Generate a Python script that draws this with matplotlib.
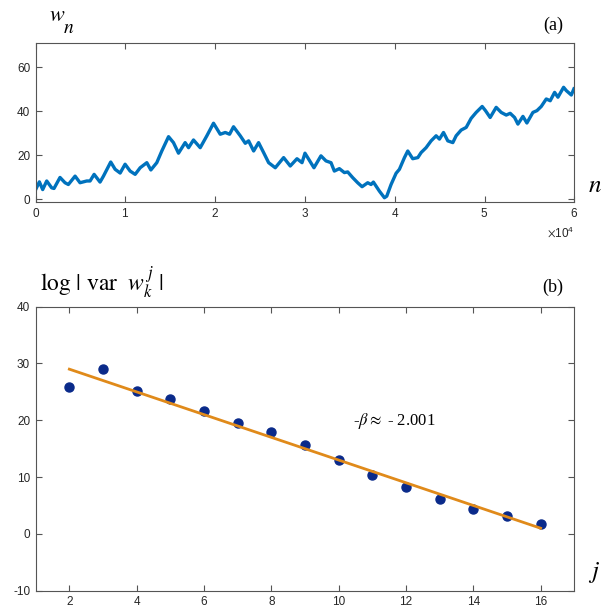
import matplotlib
matplotlib.use('Agg')
import matplotlib.pyplot as plt

plt.rcParams['mathtext.fontset'] = 'stix'
plt.rcParams['font.family'] = ['Liberation Sans', 'DejaVu Sans']
plt.rcParams['axes.unicode_minus'] = False

# (a) walk w_n
n_vals = [0, 410, 780, 1230, 1780, 2040, 2710, 3270, 3640, 4390, 4940, 5690, 6060,
          6510, 7170, 7550, 8360, 8850, 9410, 9960, 10520, 11080, 11640, 12380,
          12830, 13490, 14050, 14800, 15350, 15910, 16650, 17030, 17580, 18330,
          19070, 19810, 20560, 21120, 21600, 22040, 22790, 23350, 23720, 24280,
          24830, 25390, 25950, 26690, 27620, 28360, 29110, 29670, 30000, 31000,
          31780, 32340, 32900, 33270, 33830, 34390, 34760, 35320, 35870, 36360,
          36990, 37360, 37620, 38290, 38850, 39110, 39590, 40150, 40520, 41080,
          41450, 42000, 42570, 42940, 43490, 44050, 44610, 44980, 45430, 45910,
          46470, 46840, 47400, 47960, 48510, 49070, 49740, 50110, 50630, 51300,
          51860, 52420, 52860, 53350, 53720, 54280, 54720, 55390, 55840, 56320,
          56880, 57320, 57810, 58180, 58810, 59110, 59670, 59960]
w_vals = [4.5, 8.0, 4.5, 8.4, 5.3, 5.0, 10.0, 7.6, 6.8, 10.6, 7.6, 8.4, 8.4,
          11.4, 7.9, 10.6, 17.0, 13.7, 12.0, 16.0, 12.9, 11.4, 14.4, 16.7,
          13.4, 16.7, 22.0, 28.5, 25.8, 21.0, 25.8, 23.5, 27.0, 23.5,
          28.9, 34.6, 29.6, 30.4, 29.6, 33.0, 28.9, 25.5, 26.6, 22.0,
          25.8, 21.3, 16.7, 14.4, 19.0, 15.2, 18.5, 16.7, 21.0, 14.4,
          19.8, 17.5, 16.7, 12.9, 14.0, 12.2, 12.5, 9.9, 7.6, 5.8,
          7.6, 6.8, 7.9, 3.8, 0.8, 1.5, 6.8, 11.9, 13.7, 19.0,
          22.0, 18.5, 19.0, 21.3, 23.5, 26.6, 28.9, 27.4, 30.4, 26.6,
          25.8, 28.9, 31.5, 32.7, 36.8, 39.5, 42.2, 40.3, 37.2, 41.8,
          39.5, 38.3, 39.1, 37.2, 34.2, 37.7, 34.7, 39.5, 40.3, 42.2,
          45.6, 44.8, 48.6, 46.4, 50.9, 49.4, 47.4, 50.2]

# (b) log variance per level j and fitted line
j_vals = [2, 3, 4, 5, 6, 7, 8, 9, 10, 11, 12, 13, 14, 15, 16]
logvar = [25.8, 29.1, 25.2, 23.7, 21.7, 19.5, 17.9, 15.7, 13.0, 10.4, 8.2, 6.1, 4.4, 3.2, 1.7]
fit_j = [2, 16]
fit_y = [29.0, 1.0]

axcol = '#555555'
serif = ['Liberation Serif', 'DejaVu Serif']

fig = plt.figure(figsize=(6.11, 6.14), dpi=100)

def style(ax):
    for s in ax.spines.values():
        s.set_color(axcol)
        s.set_linewidth(0.8)
    ax.tick_params(direction='in', top=True, right=True, length=4, width=0.8,
                   colors=axcol, labelcolor='#262626', labelsize=8.5, pad=4)

ax1 = fig.add_axes([0.0584, 0.6715, 0.8815, 0.2585])
ax1.plot(n_vals, w_vals, color='#0072BD', lw=2.4)
ax1.set_xlim(0, 60000)
ax1.set_ylim(-1, 71)
ax1.set_xticks([0, 10000, 20000, 30000, 40000, 50000, 60000])
ax1.set_yticks([0, 20, 40, 60])
ax1.ticklabel_format(axis='x', style='sci', scilimits=(0, 0), useMathText=True)
style(ax1)
ax1.xaxis.get_offset_text().set_fontsize(8.5)
ax1.xaxis.get_offset_text().set_color('#262626')

ax2 = fig.add_axes([0.0584, 0.038, 0.8815, 0.4625])
ax2.plot(j_vals, logvar, 'o', color='#0a2a8a', ms=6.5)
ax2.plot(fit_j, fit_y, color='#E08A1A', lw=2)
ax2.set_xlim(1, 17)
ax2.set_ylim(-10, 40)
ax2.set_xticks([2, 4, 6, 8, 10, 12, 14, 16])
ax2.set_yticks([-10, 0, 10, 20, 30, 40])
style(ax2)
ax2.text(10.44, 19.8, r'-$\beta\approx$ - 2.001', fontsize=12, family=serif,
         ha='left', va='center')

# labels
fig.text(0.080, 0.975, r'$w$', fontsize=16, ha='left', va='center')
fig.text(0.103, 0.954, r'$n$', fontsize=14, ha='left', va='center')
fig.text(0.922, 0.959, '(a)', fontsize=13, family=serif, ha='right', va='center')
fig.text(0.962, 0.699, r'$n$', fontsize=18, ha='left', va='center')

fig.text(0.066, 0.540, r'$\mathrm{log}\ |\ \mathrm{var}\ \ w_{k}^{\,j}\ |$', fontsize=17,
         ha='left', va='center')
fig.text(0.922, 0.532, '(b)', fontsize=13, family=serif, ha='right', va='center')
fig.text(0.962, 0.068, r'$j$', fontsize=18, ha='left', va='center')

fig.savefig('out.png', dpi=100)
